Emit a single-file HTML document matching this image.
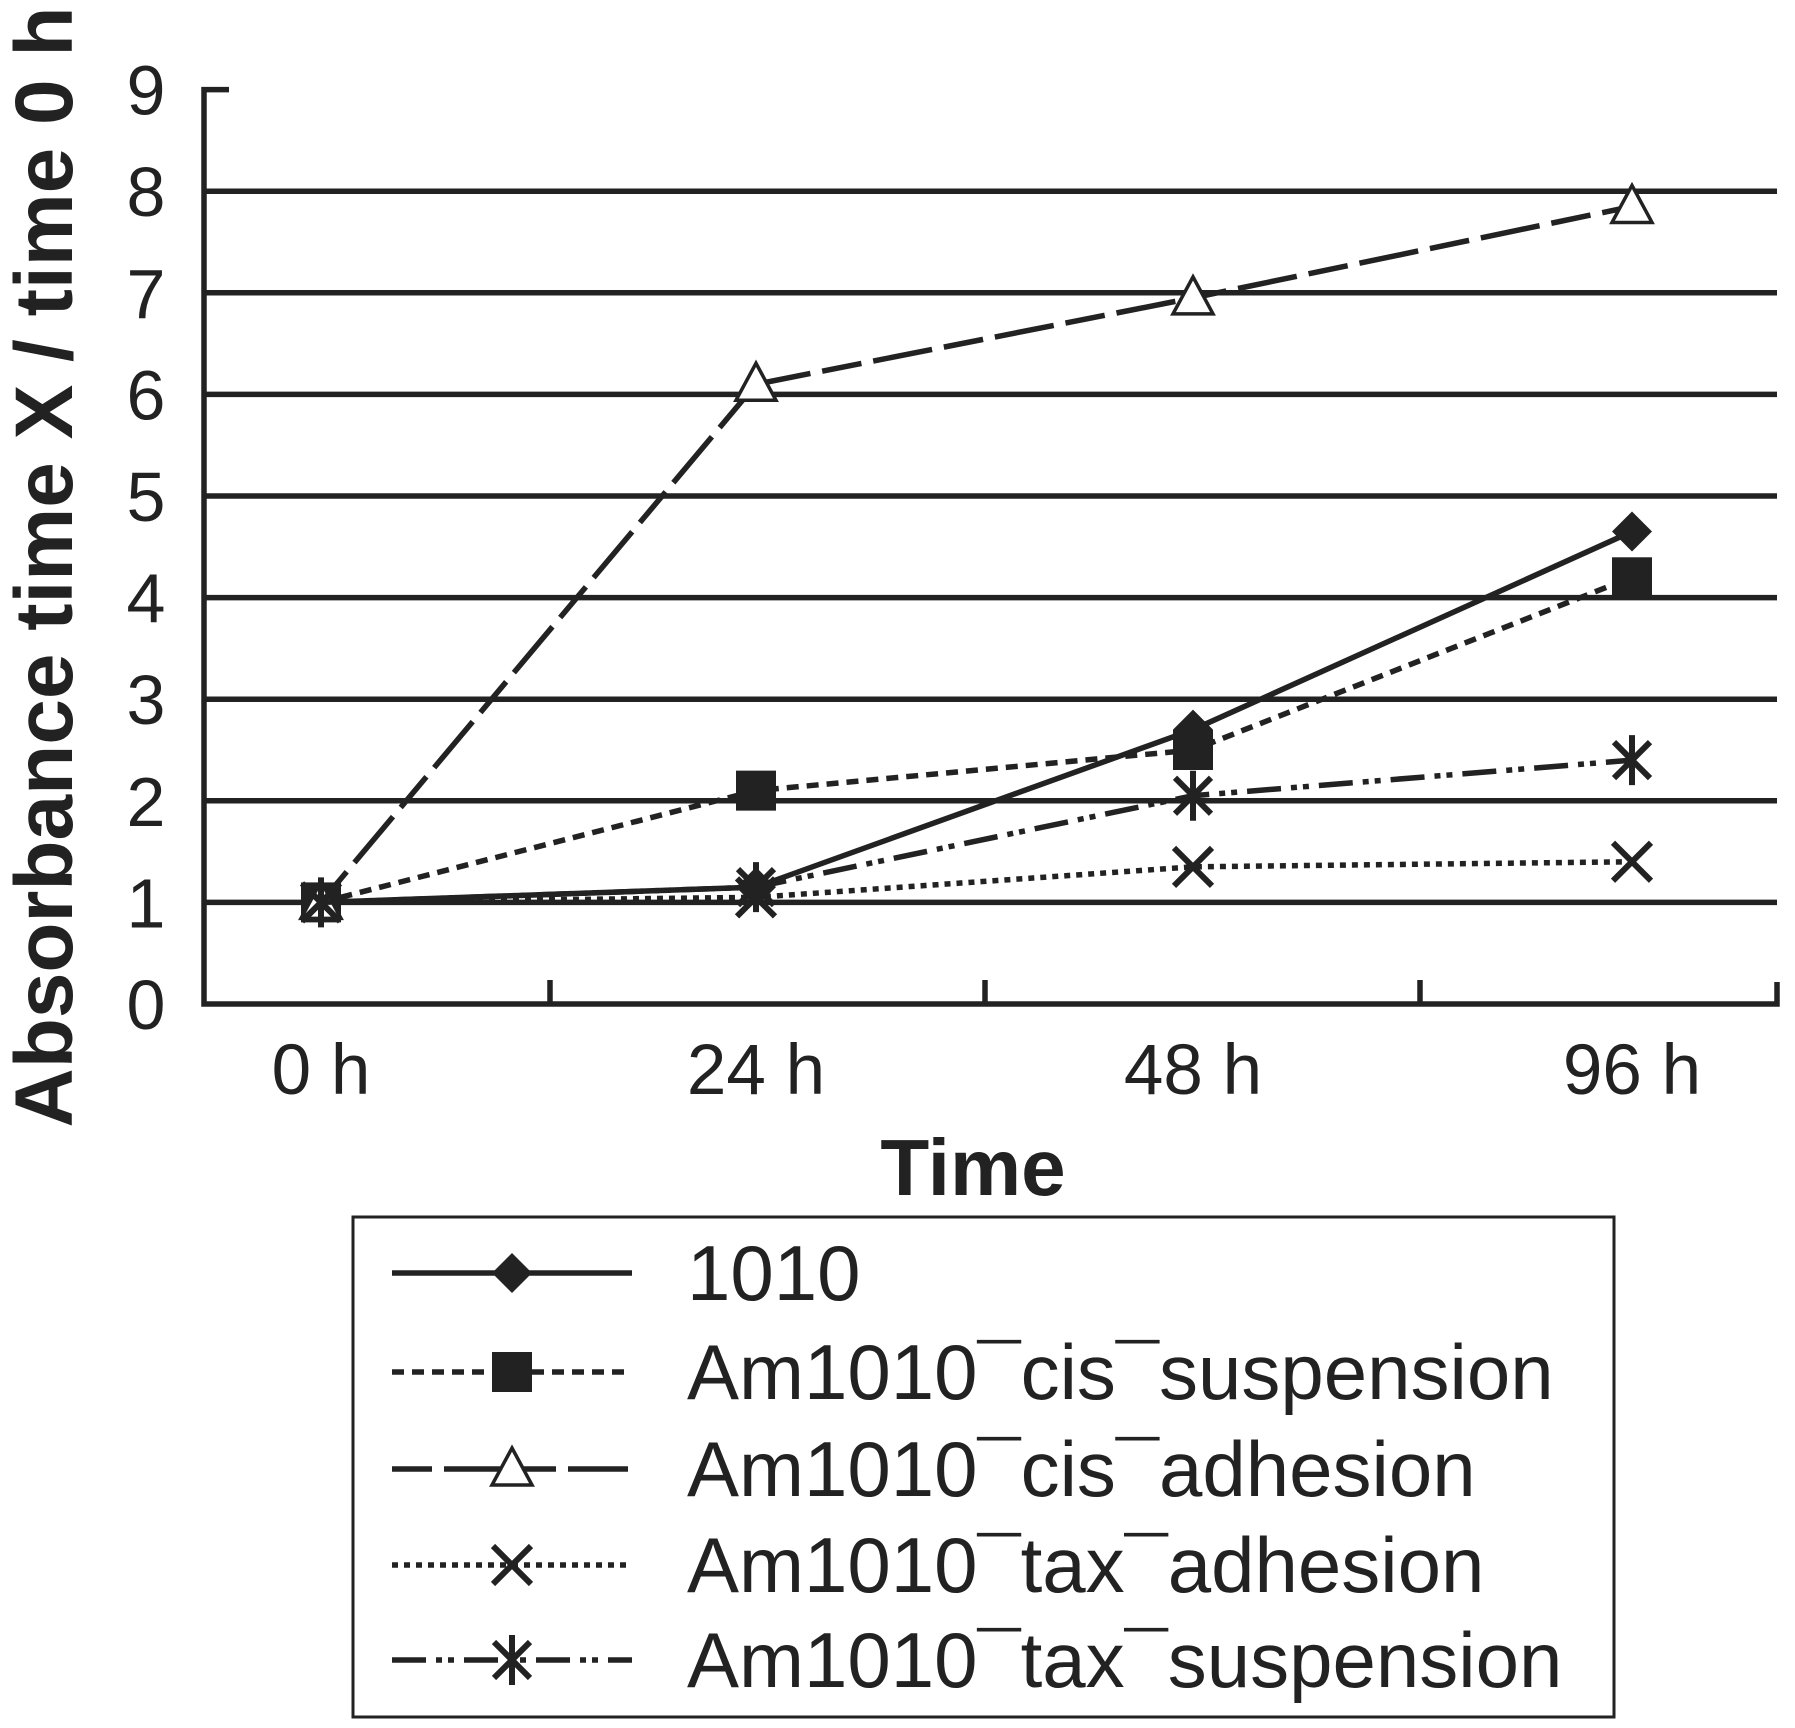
<!DOCTYPE html>
<html><head><meta charset="utf-8"><style>body{margin:0;background:#fff}svg{display:block}</style></head>
<body>
<svg id="c" width="1795" height="1728" xmlns="http://www.w3.org/2000/svg" font-family="Liberation Sans, sans-serif"></svg>
<script>
const categories=["0 h","24 h","48 h","96 h"];
const yTicks=[0,1,2,3,4,5,6,7,8,9];
const s1010=[1,1.15,2.7,4.65];
const sCisSusp=[1,2.1,2.5,4.2];
const sCisAdh=[1,6.1,6.95,7.85];
const sTaxAdh=[1,1.05,1.35,1.4];
const sTaxSusp=[1,1.15,2.05,2.4];
const seriesNames=["1010","Am1010\u00AFcis\u00AFsuspension","Am1010\u00AFcis\u00AFadhesion","Am1010\u00AFtax\u00AFadhesion","Am1010\u00AFtax\u00AFsuspension"];
const NS="http://www.w3.org/2000/svg",svg=document.getElementById('c');
function el(t,a,p){const e=document.createElementNS(NS,t);for(const k in a)e.setAttribute(k,a[k]);(p||svg).appendChild(e);return e;}
const X0=204,X1=1777,Y0=1004,DY=101.6,SW=5.5;
const xs=[321,756,1193,1632];
function y(v){return Y0-v*DY;}
function x(i){return xs[i];}
for(const t of yTicks){
 if(t>0&&t<9){const g=el('line',{x1:X0,x2:X1,y1:y(t),y2:y(t),stroke:'#222','stroke-width':SW});
 }
 const l=el('text',{x:146,y:y(t)+25,'font-size':70,'text-anchor':'middle',fill:'#222'});l.textContent=t;
 
}
let a=el('path',{d:`M${X0+25} ${y(9)}H${X0}V${Y0}H${X1}V${Y0-22}`,fill:'none',stroke:'#222','stroke-width':SW});

for(const tx of [550,985,1420]){const t=el('line',{x1:tx,x2:tx,y1:Y0,y2:Y0-24,stroke:'#222','stroke-width':SW});
}
categories.forEach((c,i)=>{const t=el('text',{x:x(i),y:1094,'font-size':71,'text-anchor':'middle',fill:'#222'});t.textContent=c;
});
let yt=el('text',{x:0,y:0,'font-size':82,'font-weight':'bold','text-anchor':'middle',fill:'#222',transform:'translate(72,567) rotate(-90)'});
yt.textContent='Absorbance time X / time 0 h';
let xt=el('text',{x:973,y:1195,'font-size':80,'font-weight':'bold','text-anchor':'middle',fill:'#222'});
xt.textContent='Time';
const dashes=['none','12 8','40 12 60 12','6 6','34 10 6 6 6 10'];
const data=[s1010,sCisSusp,sCisAdh,sTaxAdh,sTaxSusp];
const markers=['diamond','square','triangle','x','star'];
function marker(type,cx,cy,g){
 const st={stroke:'#222','stroke-width':6};
 if(type==='diamond')el('path',{d:`M${cx} ${cy-20}L${cx+20} ${cy}L${cx} ${cy+20}L${cx-20} ${cy}Z`,fill:'#222'},g);
 else if(type==='square')el('rect',{x:cx-20,y:cy-20,width:40,height:40,fill:'#222'},g);
 else if(type==='triangle')el('path',{d:`M${cx} ${cy-21}L${cx+20} ${cy+16}L${cx-20} ${cy+16}Z`,fill:'#fff',stroke:'#222','stroke-width':3.5},g);
 else if(type==='x'){el('path',Object.assign({d:`M${cx-19} ${cy-19}L${cx+19} ${cy+19}M${cx+19} ${cy-19}L${cx-19} ${cy+19}`},st),g);}
 else {el('path',Object.assign({d:`M${cx-18} ${cy-18}L${cx+18} ${cy+18}M${cx+18} ${cy-18}L${cx-18} ${cy+18}M${cx} ${cy-25}V${cy+25}`},st),g);}
}
data.forEach((d,si)=>{
 const g=el('g',{});
 const p=d.map((v,i)=>(i?'L':'M')+x(i)+' '+y(v)).join('');
 el('path',{d:p,fill:'none',stroke:'#222','stroke-width':SW,'stroke-dasharray':dashes[si]},g);
 d.forEach((v,i)=>marker(markers[si],x(i),y(v),g));
});
const lg=el('g',{});
el('rect',{x:353,y:1217,width:1261,height:500,fill:'none',stroke:'#222','stroke-width':3},lg);
const ly=[1273,1372,1469,1565,1660];
seriesNames.forEach((n,i)=>{
 const g=el('g',{},lg);
 el('line',{x1:392,x2:632,y1:ly[i],y2:ly[i],stroke:'#222','stroke-width':SW,'stroke-dasharray':dashes[i]},g);
 marker(markers[i],512,ly[i],g);
 const t=el('text',{x:687,y:ly[i]+27,'font-size':78,fill:'#222'},g);t.textContent=n;
});
</script>
</body></html>
